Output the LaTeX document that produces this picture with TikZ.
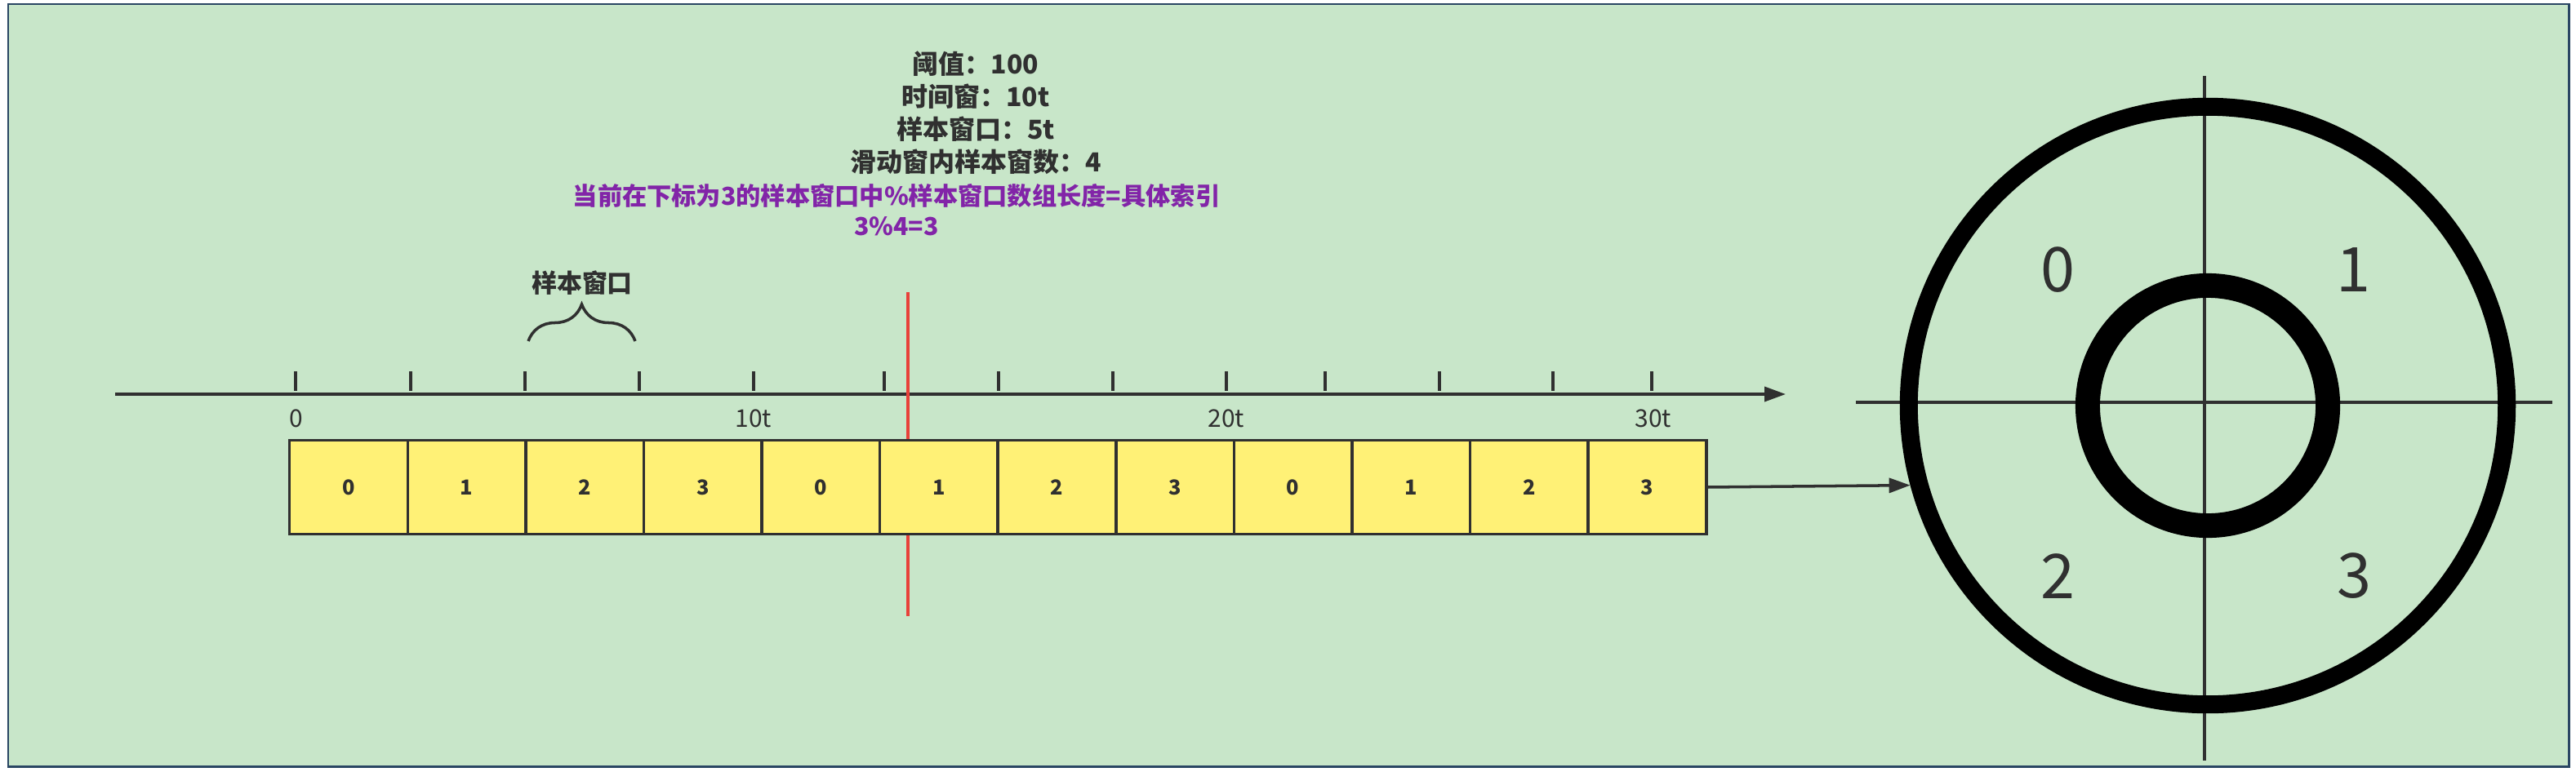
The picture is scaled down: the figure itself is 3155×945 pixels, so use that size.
\documentclass[tikz,border=0pt]{standalone}
\usepackage{fontspec}
\setmainfont{Noto Sans CJK SC}
\usetikzlibrary{arrows.meta,positioning,decorations.pathreplacing}

\definecolor{bggreen}{HTML}{C8E6C9}
\definecolor{framecol}{HTML}{2A4663}
\definecolor{cellyellow}{HTML}{FFF176}
\definecolor{ink}{HTML}{303030}
\definecolor{markred}{HTML}{E8413A}
\definecolor{notepurple}{HTML}{8224A8}

\begin{document}
\begin{tikzpicture}[
  x=0.01cm, y=-0.01cm,
  cell/.style={rectangle, draw=ink, line width=1pt, fill=cellyellow, minimum width=1.445cm, minimum height=1.15cm, inner sep=0pt, outer sep=0pt, font=\fontsize{7.2}{8}\selectfont\bfseries, text=ink},
  info/.style={align=center, inner sep=0pt, text=ink, font=\fontsize{9.1}{11.4}\selectfont\bfseries},
  note/.style={align=center, inner sep=0pt, text=notepurple, font=\fontsize{8.6}{10.5}\selectfont\bfseries},
  scale lbl/.style={inner sep=0pt, text=ink, font=\fontsize{8.5}{10}\selectfont},
  quad/.style={inner sep=0pt, text=ink, font=\fontsize{21.5}{24}\selectfont},
  arr/.style={-{Triangle[length=0.26cm, width=0.18cm]}, line width=1pt, draw=ink},
  tick/.style={line width=1pt, draw=ink},
  cross/.style={line width=0.9pt, draw=ink}
]
\useasboundingbox (0,0) rectangle (3155,945);
\fill[white] (0,0) rectangle (3155,945);
\draw[fill=bggreen, draw=framecol, line width=0.85pt] (10,5) rectangle (3146,939);

% parameters
\node[info] (info) at (1195,138) {阈值：100\\时间窗：10t\\样本窗口：5t\\滑动窗内样本窗数：4};
\node[note] (note) at (1098,257) {当前在下标为3的样本窗口中\%样本窗口数组长度=具体索引\\3\%4=3};

% time axis
\draw[arr] (141,483) -- (2187,483);
\foreach \t in {362,503,643,783,923,1083,1223,1363,1502,1623,1763,1902,2023}
  \draw[tick] (\t,455) -- (\t,479);
\node[scale lbl] (l0)  at (363,513)  {0};
\node[scale lbl] (l10) at (923,513)  {10t};
\node[scale lbl] (l20) at (1502,513) {20t};
\node[scale lbl] (l30) at (2025,513) {30t};

\draw[decorate, decoration={brace, amplitude=0.45cm}, line width=1pt, draw=ink] (647,418) -- (778,418);
\node[info, font=\fontsize{8.8}{10}\selectfont\bfseries] (brlab) at (713,347) {样本窗口};

% current time (behind the windows)
\draw[markred, line width=0.95pt] (1112,358) -- (1112,755);

% sample windows
\node[cell] (w1) at (427,597) {0};
\node[cell, right=0pt of w1]  (w2)  {1};
\node[cell, right=0pt of w2]  (w3)  {2};
\node[cell, right=0pt of w3]  (w4)  {3};
\node[cell, right=0pt of w4]  (w5)  {0};
\node[cell, right=0pt of w5]  (w6)  {1};
\node[cell, right=0pt of w6]  (w7)  {2};
\node[cell, right=0pt of w7]  (w8)  {3};
\node[cell, right=0pt of w8]  (w9)  {0};
\node[cell, right=0pt of w9]  (w10) {1};
\node[cell, right=0pt of w10] (w11) {2};
\node[cell, right=0pt of w11] (w12) {3};

% ring of sample windows
\draw[cross] (2273,493) -- (3126,493);
\draw[cross] (2700,93) -- (2700,932);
\node[circle, draw=black, line width=0.22cm, minimum size=7.32cm, inner sep=0pt] (ring) at (2704,497) {};
\node[circle, draw=black, line width=0.3cm, minimum size=2.94cm, inner sep=0pt] (hub) at (2704,497) {};
\node[quad] (q0) at (2520,331) {0};
\node[quad] (q1) at (2882,331) {1};
\node[quad] (q2) at (2520,706) {2};
\node[quad] (q3) at (2883,706) {3};

\draw[arr] (w12.east) -- (ring.195);
\end{tikzpicture}
\end{document}
